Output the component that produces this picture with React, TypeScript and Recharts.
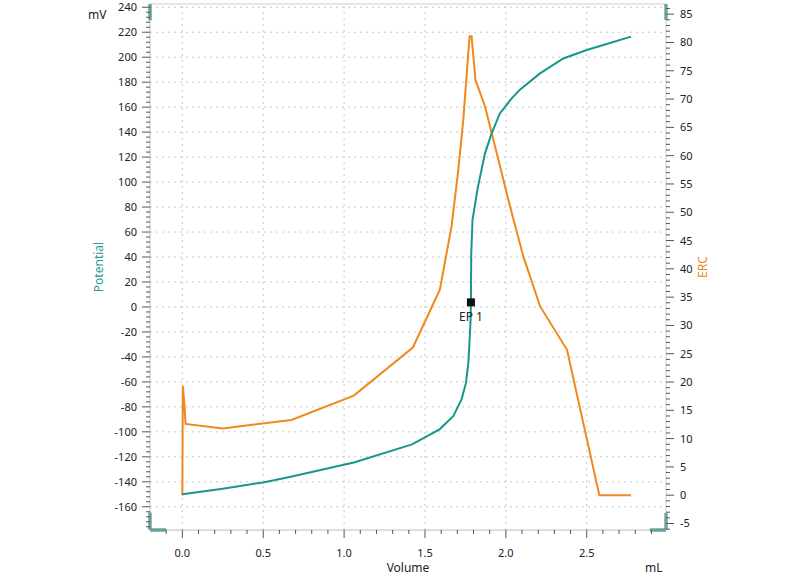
import React from "react"
import { LineChart, Line, XAxis, YAxis, ReferenceLine, ReferenceDot } from "recharts"

// axis ranges
const X_MIN = -0.2
const X_MAX = 2.99
const MV_MIN = -178.6
const MV_MAX = 242.6
const ERC_MIN = -6.15
const ERC_MAX = 86.8

const volumeTicks = [0, 0.5, 1, 1.5, 2, 2.5]
const potentialTicks = [-160, -140, -120, -100, -80, -60, -40, -20, 0, 20, 40, 60, 80, 100, 120, 140, 160, 180, 200, 220, 240]
const ercTicks = [-5, 0, 5, 10, 15, 20, 25, 30, 35, 40, 45, 50, 55, 60, 65, 70, 75, 80, 85]

// potential (mV) vs volume (mL)
const potentialData = [
  { v: 0.0, mV: -150 },
  { v: 0.25, mV: -145.5 },
  { v: 0.5, mV: -140.5 },
  { v: 0.67, mV: -136 },
  { v: 1.06, mV: -124.5 },
  { v: 1.42, mV: -110 },
  { v: 1.59, mV: -98 },
  { v: 1.675, mV: -87.5 },
  { v: 1.726, mV: -74 },
  { v: 1.753, mV: -61 },
  { v: 1.768, mV: -45 },
  { v: 1.776, mV: -26 },
  { v: 1.782, mV: -10 },
  { v: 1.784, mV: 4 },
  { v: 1.786, mV: 43 },
  { v: 1.794, mV: 70 },
  { v: 1.827, mV: 96 },
  { v: 1.871, mV: 123 },
  { v: 1.912, mV: 139 },
  { v: 1.963, mV: 155 },
  { v: 2.036, mV: 167 },
  { v: 2.087, mV: 174 },
  { v: 2.211, mV: 187 },
  { v: 2.355, mV: 199 },
  { v: 2.5, mV: 205.8 },
  { v: 2.603, mV: 209.8 },
  { v: 2.774, mV: 216.5 },
]

// ERC vs volume (mL)
const ercData = [
  { v: 0.0, erc: 0 },
  { v: 0.003, erc: 19.3 },
  { v: 0.012, erc: 16.3 },
  { v: 0.02, erc: 12.6 },
  { v: 0.25, erc: 11.8 },
  { v: 0.674, erc: 13.3 },
  { v: 1.06, erc: 17.6 },
  { v: 1.425, erc: 26.1 },
  { v: 1.592, erc: 36.3 },
  { v: 1.664, erc: 47.5 },
  { v: 1.706, erc: 57.5 },
  { v: 1.737, erc: 66.4 },
  { v: 1.768, erc: 78.2 },
  { v: 1.776, erc: 81.1 },
  { v: 1.788, erc: 81.1 },
  { v: 1.812, erc: 73.4 },
  { v: 1.871, erc: 68.7 },
  { v: 1.943, erc: 60.5 },
  { v: 2.025, erc: 51.1 },
  { v: 2.108, erc: 42.2 },
  { v: 2.211, erc: 33.4 },
  { v: 2.378, erc: 25.7 },
  { v: 2.578, erc: 0 },
  { v: 2.774, erc: 0 },
]

const endpoint = { v: 1.784, mV: 3.7, label: "EP 1" }

const TEAL = "#17978b"
const HANDLE = "#1b7d72"
const ORANGE = "#f0891d"
const GRID = "#c8c8c8"
const TICK = "#555"

// minor tick positions between the labelled ones
const steps = (from: number, to: number, step: number, scale: number) => {
  const out: number[] = []
  for (let k = Math.round(from * scale); k <= Math.round(to * scale); k += Math.round(step * scale)) out.push(k / scale)
  return out
}
const volumeMinor = steps(-0.1, 2.9, 0.1, 10)
const potentialMinor = steps(-176, 240, 4, 1)
const ercMinor = steps(-6, 86, 1, 1)

const isMajor = (list: number[], v: number) => list.some((m) => Math.abs(m - v) < 1e-6)

function AxisTick(props: any) {
  const { x, y, payload, side, majors } = props
  const v = payload.value
  const major = isMajor(majors, v)
  const len = major ? 8 : 4
  if (side === "left") {
    return (
      <g>
        <line x1={x - len} x2={x} y1={y} y2={y} stroke={TICK} />
        {major && (
          <text x={x - 13} y={y} dy={4} textAnchor="end" fontSize={11} fill="#222">
            {v}
          </text>
        )}
      </g>
    )
  }
  if (side === "right") {
    return (
      <g>
        <line x1={x} x2={x + len} y1={y} y2={y} stroke={TICK} />
        {major && (
          <text x={x + 14} y={y} dy={4} textAnchor="start" fontSize={11} fill="#222">
            {v}
          </text>
        )}
      </g>
    )
  }
  return (
    <g>
      <line x1={x} x2={x} y1={y} y2={y + len} stroke={TICK} />
      {major && (
        <text x={x} y={y + 27} textAnchor="middle" fontSize={11} fill="#222">
          {v.toFixed(1)}
        </text>
      )}
    </g>
  )
}

function EpMarker(props: any) {
  const { cx, cy } = props
  return (
    <g>
      <rect x={cx - 4} y={cy - 4} width={8} height={8} fill="#111" />
      <text x={cx} y={cy + 19} textAnchor="middle" fontSize={12} fill="#222">
        {endpoint.label}
      </text>
    </g>
  )
}

const bracket = { stroke: HANDLE, strokeWidth: 3, ifOverflow: "visible" as const }

export default function App() {
  return (
    <div
      style={{
        position: "absolute",
        left: 0,
        top: 0,
        width: 800,
        height: 580,
        background: "#fff",
        fontFamily: '"Segoe UI", "Noto Sans", sans-serif',
      }}
    >
      <LineChart width={800} height={580} margin={{ top: 4, right: 84, left: 100, bottom: 20 }}>
        <XAxis
          dataKey="v"
          type="number"
          domain={[X_MIN, X_MAX]}
          allowDataOverflow
          ticks={volumeMinor}
          interval={0}
          height={30}
          tickSize={0}
          tickMargin={0}
          tickLine={false}
          axisLine={{ stroke: "#bbb" }}
          tick={<AxisTick side="bottom" majors={volumeTicks} />}
        />
        <YAxis
          yAxisId="left"
          type="number"
          domain={[MV_MIN, MV_MAX]}
          allowDataOverflow
          ticks={potentialMinor}
          interval={0}
          width={50}
          tickSize={0}
          tickMargin={0}
          tickLine={false}
          axisLine={{ stroke: "#bbb" }}
          tick={<AxisTick side="left" majors={potentialTicks} />}
        />
        <YAxis
          yAxisId="right"
          orientation="right"
          type="number"
          domain={[ERC_MIN, ERC_MAX]}
          allowDataOverflow
          ticks={ercMinor}
          interval={0}
          width={50}
          tickSize={0}
          tickMargin={0}
          tickLine={false}
          axisLine={{ stroke: "#ccc" }}
          tick={<AxisTick side="right" majors={ercTicks} />}
        />

        {potentialTicks.map((t) => (
          <ReferenceLine key={"h" + t} yAxisId="left" y={t} stroke={GRID} strokeDasharray="2 4" />
        ))}
        {volumeTicks.map((t) => (
          <ReferenceLine key={"v" + t} yAxisId="left" x={t} stroke={GRID} strokeDasharray="2 4" />
        ))}
        <ReferenceLine yAxisId="left" y={MV_MAX} stroke="#ccc" />

        <Line
          yAxisId="right"
          data={ercData}
          dataKey="erc"
          type="linear"
          stroke={ORANGE}
          strokeWidth={2}
          dot={false}
          isAnimationActive={false}
        />
        <Line
          yAxisId="left"
          data={potentialData}
          dataKey="mV"
          type="linear"
          stroke={TEAL}
          strokeWidth={2}
          dot={false}
          isAnimationActive={false}
        />

        <ReferenceDot yAxisId="left" x={endpoint.v} y={endpoint.mV} r={4} shape={EpMarker} />

        {/* zoom handles at the plot corners */}
        <ReferenceLine yAxisId="left" {...bracket} segment={[{ x: X_MIN, y: MV_MAX }, { x: X_MIN, y: MV_MAX - 13 }]} />
        <ReferenceLine yAxisId="left" {...bracket} segment={[{ x: X_MIN, y: MV_MIN }, { x: X_MIN, y: MV_MIN + 14 }]} />
        <ReferenceLine yAxisId="left" {...bracket} segment={[{ x: X_MIN, y: MV_MIN }, { x: X_MIN + 0.1, y: MV_MIN }]} />
        <ReferenceLine yAxisId="right" {...bracket} segment={[{ x: X_MAX, y: ERC_MAX }, { x: X_MAX, y: ERC_MAX - 2.8 }]} />
        <ReferenceLine yAxisId="right" {...bracket} segment={[{ x: X_MAX, y: ERC_MIN }, { x: X_MAX, y: ERC_MIN + 3 }]} />
        <ReferenceLine yAxisId="right" {...bracket} segment={[{ x: X_MAX - 0.1, y: ERC_MIN }, { x: X_MAX, y: ERC_MIN }]} />
      </LineChart>

      <span style={{ position: "absolute", left: 88, top: 8, fontSize: 12, lineHeight: "14px", color: "#222" }}>mV</span>
      <span style={{ position: "absolute", left: 645, top: 561, fontSize: 12, lineHeight: "14px", color: "#222" }}>mL</span>
      <span
        style={{
          position: "absolute",
          left: 378,
          width: 60,
          textAlign: "center",
          top: 561,
          fontSize: 12,
          lineHeight: "14px",
          color: "#222",
        }}
      >
        Volume
      </span>
      <div
        style={{
          position: "absolute",
          left: 49,
          top: 260,
          width: 100,
          height: 14,
          lineHeight: "14px",
          textAlign: "center",
          fontSize: 12,
          color: "#2a9d90",
          transform: "rotate(-90deg)",
        }}
      >
        Potential
      </div>
      <div
        style={{
          position: "absolute",
          left: 653,
          top: 260,
          width: 100,
          height: 14,
          lineHeight: "14px",
          textAlign: "center",
          fontSize: 12,
          color: ORANGE,
          transform: "rotate(-90deg)",
        }}
      >
        ERC
      </div>
    </div>
  )
}
